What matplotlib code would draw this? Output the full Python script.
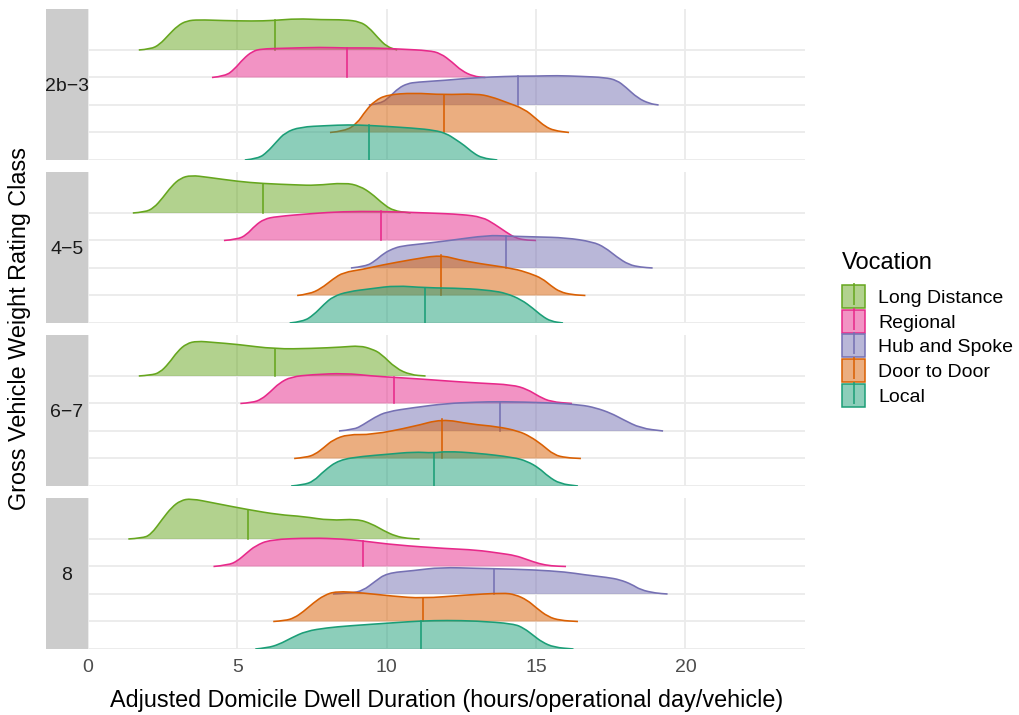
import numpy as np
import matplotlib.pyplot as plt
from matplotlib.patches import Patch, PathPatch
from matplotlib.path import Path
from matplotlib.lines import Line2D
from matplotlib.legend_handler import HandlerTuple
from matplotlib.colors import to_rgba

plt.rcParams['font.family'] = ['Liberation Sans', 'DejaVu Sans']

classes = ['2b\u22123', '4\u22125', '6\u22127', '8']
vocations = ['Local', 'Door to Door', 'Hub and Spoke', 'Regional', 'Long Distance']
colors = ['#1B9E77', '#D95F02', '#7570B3', '#E7298A', '#66A61E']

# ridge outlines: one list per weight class (2b-3, 4-5, 6-7, 8)
local_x = [
    [5.25, 5.7, 6.0, 6.3, 6.6, 7.1, 8.0, 8.7, 9.4, 10.9, 11.6, 12.0, 12.3, 12.6, 12.9, 13.2, 13.7],
    [6.75, 7.2, 7.55, 7.9, 8.2, 8.7, 9.5, 10.3, 11.3, 12.6, 13.5, 14.0, 14.5, 14.9, 15.2, 15.5, 15.9],
    [6.8, 7.2, 7.55, 7.9, 8.4, 9.2, 10.0, 10.9, 11.57, 12.0, 13.0, 14.25, 14.7, 15.1, 15.4, 15.8, 16.4],
    [5.6, 6.0, 6.4, 6.8, 7.3, 8.0, 8.7, 10.3, 11.16, 12.0, 13.0, 14.25, 14.6, 14.9, 15.2, 15.6, 16.25],
]
local_h = [
    [0, 0.05, 0.29, 0.65, 1.0, 1.2, 1.25, 1.28, 1.26, 1.16, 1.08, 0.96, 0.75, 0.53, 0.25, 0.07, 0],
    [0, 0.05, 0.29, 0.68, 0.96, 1.14, 1.25, 1.36, 1.28, 1.26, 1.18, 1.08, 0.85, 0.53, 0.25, 0.06, 0],
    [0, 0.04, 0.17, 0.55, 0.95, 1.08, 1.15, 1.24, 1.2, 1.26, 1.2, 1.04, 0.9, 0.65, 0.35, 0.08, 0],
    [0, 0.04, 0.17, 0.4, 0.65, 0.77, 0.84, 0.96, 1.02, 1.04, 1.02, 0.92, 0.75, 0.5, 0.25, 0.06, 0],
]
local_med = [9.4, 11.29, 11.57, 11.16]

door_x = [
    [8.1, 8.6, 9.0, 9.3, 9.6, 10.0, 10.9, 11.9, 13.0, 13.5, 14.0, 14.6, 15.0, 15.3, 15.6, 16.1],
    [7.0, 7.4, 7.8, 8.2, 8.55, 9.2, 9.8, 10.9, 11.8, 12.4, 13.1, 14.25, 14.8, 15.2, 15.5, 15.8, 16.2, 16.65],
    [6.9, 7.3, 7.6, 7.9, 8.2, 8.7, 9.5, 10.9, 11.85, 12.8, 13.7, 14.4, 14.8, 15.2, 15.6, 16.0, 16.5],
    [6.2, 6.6, 6.9, 7.2, 7.55, 7.9, 8.3, 9.2, 10.2, 11.2, 12.6, 13.9, 14.3, 14.7, 15.0, 15.4, 15.8, 16.4],
]
door_h = [
    [0, 0.05, 0.32, 0.8, 1.15, 1.37, 1.44, 1.37, 1.41, 1.3, 1.1, 0.86, 0.5, 0.22, 0.07, 0],
    [0, 0.05, 0.25, 0.6, 0.84, 0.95, 1.1, 1.32, 1.47, 1.3, 1.16, 0.98, 0.8, 0.62, 0.35, 0.13, 0.03, 0],
    [0, 0.04, 0.15, 0.4, 0.68, 0.88, 0.86, 1.16, 1.44, 1.25, 1.16, 1.0, 0.8, 0.5, 0.13, 0.03, 0],
    [0, 0.03, 0.13, 0.35, 0.68, 0.95, 1.1, 1.04, 0.92, 0.84, 0.96, 1.04, 0.98, 0.78, 0.5, 0.17, 0.04, 0],
]
door_med = [11.9, 11.8, 11.85, 11.23]

hub_x = [
    [9.4, 9.8, 10.1, 10.4, 10.7, 11.0, 12.0, 12.7, 13.5, 14.4, 15.0, 15.7, 16.5, 17.3, 17.7, 18.0, 18.4, 18.8, 19.1],
    [8.8, 9.3, 9.6, 9.9, 10.2, 10.5, 11.2, 12.1, 13.4, 14.0, 15.0, 16.0, 16.9, 17.3, 17.7, 18.1, 18.5, 18.9],
    [8.4, 8.9, 9.2, 9.6, 10.0, 10.9, 12.0, 13.0, 13.8, 15.4, 16.5, 17.0, 17.5, 17.9, 18.5, 19.25],
    [8.2, 8.8, 9.2, 9.6, 10.0, 10.9, 11.8, 13.1, 13.6, 14.9, 16.0, 16.6, 17.4, 17.8, 18.2, 18.5, 19.0, 19.4],
]
hub_h = [
    [0, 0.05, 0.3, 0.62, 0.78, 0.83, 0.9, 0.97, 1.02, 1.05, 1.05, 1.07, 1.04, 1.0, 0.9, 0.65, 0.25, 0.05, 0],
    [0, 0.06, 0.25, 0.53, 0.7, 0.8, 0.88, 1.0, 1.19, 1.16, 1.13, 1.1, 0.95, 0.75, 0.4, 0.12, 0.03, 0],
    [0, 0.05, 0.22, 0.5, 0.7, 0.85, 1.0, 1.05, 1.07, 1.03, 0.95, 0.84, 0.65, 0.42, 0.1, 0],
    [0, 0.03, 0.12, 0.45, 0.76, 0.85, 0.97, 0.93, 0.92, 0.88, 0.8, 0.7, 0.6, 0.52, 0.35, 0.15, 0.03, 0],
]
hub_med = [14.4, 14.0, 13.8, 13.6]

regional_x = [
    [4.15, 4.6, 4.9, 5.2, 5.5, 5.8, 6.5, 7.8, 8.65, 9.5, 10.5, 11.4, 11.8, 12.2, 12.5, 12.9, 13.3],
    [4.55, 5.0, 5.3, 5.6, 5.9, 6.3, 7.5, 8.5, 9.8, 11.4, 12.5, 13.2, 13.6, 14.0, 14.3, 14.6, 15.0],
    [5.1, 5.5, 5.8, 6.1, 6.4, 6.8, 7.5, 8.6, 9.5, 10.23, 11.0, 12.0, 13.1, 14.2, 14.7, 15.1, 15.5, 16.2],
    [4.2, 4.7, 5.0, 5.3, 5.6, 6.1, 7.5, 8.5, 9.2, 10.3, 12.0, 13.0, 13.8, 14.3, 14.7, 15.1, 15.5, 16.0],
]
regional_h = [
    [0, 0.05, 0.3, 0.68, 0.95, 1.04, 1.06, 1.1, 1.07, 1.08, 1.03, 0.98, 0.88, 0.55, 0.25, 0.04, 0],
    [0, 0.04, 0.2, 0.55, 0.78, 0.87, 0.98, 1.05, 1.06, 1.0, 0.95, 0.85, 0.6, 0.3, 0.1, 0.02, 0],
    [0, 0.03, 0.15, 0.42, 0.74, 0.97, 1.05, 1.1, 1.0, 0.95, 0.9, 0.82, 0.74, 0.68, 0.52, 0.25, 0.06, 0],
    [0, 0.05, 0.2, 0.48, 0.75, 0.98, 1.04, 1.0, 0.93, 0.78, 0.65, 0.6, 0.48, 0.4, 0.25, 0.1, 0.02, 0],
]
regional_med = [8.68, 9.8, 10.23, 9.2]

long_x = [
    [1.7, 2.1, 2.4, 2.7, 3.0, 3.3, 3.7, 4.5, 5.5, 6.2, 7.0, 7.8, 8.6, 9.1, 9.4, 9.7, 10.0, 10.35],
    [1.5, 1.9, 2.2, 2.5, 2.8, 3.1, 3.45, 4.0, 5.0, 5.85, 7.0, 7.6, 8.6, 9.1, 9.5, 9.8, 10.2, 10.8],
    [1.7, 2.1, 2.4, 2.7, 3.0, 3.3, 3.65, 4.2, 5.0, 6.26, 7.5, 8.5, 9.1, 9.5, 9.8, 10.3, 10.8, 11.3],
    [1.35, 1.8, 2.1, 2.5, 2.8, 3.1, 3.45, 4.2, 5.34, 6.4, 7.2, 8.1, 9.0, 9.5, 9.9, 10.3, 10.7, 11.1],
]
long_h = [
    [0, 0.03, 0.2, 0.55, 0.88, 1.06, 1.1, 1.07, 1.05, 1.07, 1.14, 1.1, 1.1, 1.03, 0.82, 0.45, 0.12, 0],
    [0, 0.03, 0.18, 0.55, 0.98, 1.27, 1.37, 1.3, 1.15, 1.07, 1.02, 1.0, 1.1, 0.98, 0.7, 0.4, 0.08, 0],
    [0, 0.03, 0.12, 0.45, 0.9, 1.18, 1.27, 1.22, 1.15, 0.98, 1.0, 1.05, 1.1, 0.98, 0.82, 0.28, 0.04, 0],
    [0, 0.03, 0.15, 0.74, 1.15, 1.4, 1.47, 1.31, 1.07, 0.88, 0.82, 0.67, 0.73, 0.55, 0.3, 0.1, 0.02, 0],
]
long_med = [6.25, 5.85, 6.26, 5.34]

ridge_x = [local_x, door_x, hub_x, regional_x, long_x]
ridge_h = [local_h, door_h, hub_h, regional_h, long_h]
ridge_med = [local_med, door_med, hub_med, regional_med, long_med]


def ridge_path(xs, ys, base, closed):
    # quadratic bezier through the read points (points act as control points)
    verts = [(xs[0], ys[0])]
    codes = [Path.MOVETO]
    for j in range(1, len(xs) - 1):
        verts += [(xs[j], ys[j]), ((xs[j] + xs[j + 1]) / 2, (ys[j] + ys[j + 1]) / 2)]
        codes += [Path.CURVE3, Path.CURVE3]
    verts.append((xs[-1], ys[-1]))
    codes.append(Path.LINETO)
    if closed:
        verts += [(xs[-1], base), (xs[0], base), (xs[0], base)]
        codes += [Path.LINETO, Path.LINETO, Path.CLOSEPOLY]
    return Path(verts, codes)


W, H = 1020, 715
fig = plt.figure(figsize=(W / 100, H / 100), dpi=100)

panel_top = [9, 172, 335, 498]
panel_h = 151
left, right = 88, 805

for i, cls in enumerate(classes):
    top = panel_top[i]
    ax = fig.add_axes([left / W, 1 - (top + panel_h) / H, (right - left) / W, panel_h / H])
    ax.set_xlim(0, 24)
    ax.set_ylim(1, 6.49)
    for s in ax.spines.values():
        s.set_visible(False)
    ax.set_xticks([0, 5, 10, 15, 20])
    ax.set_yticks([1, 2, 3, 4, 5])
    ax.grid(True, color='#EBEBEB', lw=1.3)
    ax.set_axisbelow(True)
    ax.tick_params(length=0, labelleft=False, labelbottom=(i == 3),
                   labelsize=14, labelcolor='#4D4D4D', pad=7)

    for k in range(5):
        xs = np.array(ridge_x[k][i])
        ys = k + 1 + np.array(ridge_h[k][i])
        base = k + 1
        c = colors[k]
        z = 10 - 2 * k
        ax.add_patch(PathPatch(ridge_path(xs, ys, base, True), facecolor=to_rgba(c, 0.5),
                               edgecolor='none', zorder=z))
        ax.add_patch(PathPatch(ridge_path(xs, ys, base, False), facecolor='none',
                               edgecolor=c, lw=1.15, zorder=z + 0.5))
        m = ridge_med[k][i]
        ax.plot([m, m], [base, np.interp(m, xs, ys)], color=c, lw=1.15, zorder=z + 0.5)

    # facet strip on the left
    st = fig.add_axes([46 / W, 1 - (top + panel_h) / H, (left - 46) / W, panel_h / H])
    st.set_facecolor('#CCCCCC')
    st.set_xticks([])
    st.set_yticks([])
    for s in st.spines.values():
        s.set_visible(False)
    st.text(0.5, 0.5, cls, ha='center', va='center_baseline', fontsize=14, color='#1A1A1A',
            transform=st.transAxes)

fig.text(20 / W, 1 - 329 / H, 'Gross Vehicle Weight Rating Class', rotation=90,
         ha='center', va='center', fontsize=16.8, color='black')
fig.text((left + right) / 2 / W, 1 - 700 / H,
         'Adjusted Domicile Dwell Duration (hours/operational day/vehicle)',
         ha='center', va='center', fontsize=16.8, color='black')

fig.text(842 / W, 1 - 263 / H, 'Vocation', ha='left', va='center', fontsize=17, color='black')

handles = []
for k in range(4, -1, -1):
    c = colors[k]
    p = Patch(facecolor=to_rgba(c, 0.5), edgecolor=c, lw=1.1)
    ln = Line2D([], [], color=c, marker='|', markersize=16.5, markeredgewidth=1.1, linestyle='None')
    handles.append((p, ln))
fig.legend(handles, vocations[::-1], handler_map={tuple: HandlerTuple(ndivide=1, pad=0)},
           loc='upper left', bbox_to_anchor=(842 / W, 1 - 285 / H), frameon=False,
           fontsize=14, handlelength=1.2, handleheight=1.45, labelspacing=0.08,
           handletextpad=0.67, borderpad=0, borderaxespad=0)

fig.savefig('out.png', dpi=100)
